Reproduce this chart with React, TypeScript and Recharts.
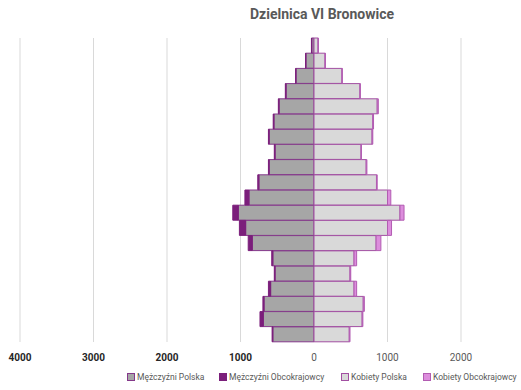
import React from "react";
import { BarChart, Bar, XAxis, YAxis, CartesianGrid, Legend } from "recharts";

// age groups, youngest first (drawn bottom-up)
const ageGroups = [
  "0-4", "5-9", "10-14", "15-19", "20-24", "25-29", "30-34", "35-39", "40-44", "45-49",
  "50-54", "55-59", "60-64", "65-69", "70-74", "75-79", "80-84", "85-89", "90-94", "95+",
];
const menPoland = [560, 690, 680, 590, 530, 560, 840, 930, 1030, 885, 750, 610, 530, 610, 545, 475, 380, 245, 110, 30];
const menForeign = [10, 45, 15, 30, 10, 15, 55, 85, 75, 55, 15, 10, 10, 10, 10, 10, 10, 5, 5, 5];
const womenPoland = [480, 655, 670, 545, 490, 545, 845, 1000, 1170, 1000, 850, 710, 640, 790, 800, 860, 625, 380, 150, 55];
const womenForeign = [10, 10, 15, 35, 10, 35, 65, 55, 55, 45, 10, 10, 5, 10, 10, 15, 5, 5, 5, 5];
const xTicks = [-4000, -3000, -2000, -1000, 0, 1000, 2000];

const seriesNames = ["Mężczyźni Polska", "Mężczyźni Obcokrajowcy", "Kobiety Polska", "Kobiety Obcokrajowcy"];

const data = ageGroups.map((age, i) => ({
  age,
  mp: -menPoland[i],
  mo: -menForeign[i],
  kp: womenPoland[i],
  ko: womenForeign[i],
}));

const FONT = "Roboto, 'Liberation Sans', sans-serif";

const colors = {
  mp: { fill: "#a6a6a6", stroke: "#84388a" },
  mo: { fill: "#7b1f7b", stroke: "#7b1f7b" },
  kp: { fill: "#d9d9d9", stroke: "#a24fa2" },
  ko: { fill: "#dc8ddc", stroke: "#b25cb2" },
};

const Tick = (props: any) => {
  const { x, y, payload } = props;
  const v = payload.value as number;
  const neg = v < 0;
  return (
    <text
      x={x}
      y={y + 11}
      textAnchor="middle"
      fontFamily={FONT}
      fontSize={10}
      fontWeight={neg ? 700 : 400}
      fill={neg ? "#262626" : "#595959"}
    >
      {Math.abs(v)}
    </text>
  );
};

const LegendContent = () => {
  const keys = ["mp", "mo", "kp", "ko"] as const;
  const lefts = [127, 219, 341, 423];
  return (
    <div
      style={{
        position: "relative",
        height: 21,
        width: 521,
        fontFamily: FONT,
        fontSize: 8.5,
        color: "#595959",
        whiteSpace: "nowrap",
      }}
    >
      {keys.map((k, i) => (
        <div
          key={k}
          style={{ position: "absolute", left: lefts[i], top: 8, display: "flex", alignItems: "center" }}
        >
          <span
            style={{
              display: "inline-block",
              width: 6,
              height: 6,
              background: colors[k].fill,
              border: `1px solid ${colors[k].stroke}`,
              marginRight: 2,
            }}
          />
          <span>{seriesNames[i]}</span>
        </div>
      ))}
    </div>
  );
};

export default function App() {
  return (
    <div style={{ position: "absolute", left: 0, top: 0, width: 521, height: 390, background: "#fff" }}>
      <div
        style={{
          position: "absolute",
          top: 6,
          left: 222,
          width: 200,
          textAlign: "center",
          fontFamily: FONT,
          fontWeight: 700,
          fontSize: 14,
          color: "#595959",
        }}
      >
        Dzielnica VI Bronowice
      </div>
      <BarChart
        width={521}
        height={390}
        data={data}
        layout="vertical"
        stackOffset="sign"
        barCategoryGap={0}
        margin={{ top: 38, right: 60, left: 20, bottom: 5 }}
      >
        <CartesianGrid horizontal={false} stroke="#d9d9d9" />
        <XAxis
          type="number"
          domain={[-4000, 2000]}
          ticks={xTicks}
          axisLine={false}
          tickLine={false}
          height={22}
          tick={<Tick />}
          interval={0}
        />
        <YAxis type="category" dataKey="age" hide reversed />
        <Legend
          verticalAlign="bottom"
          content={<LegendContent />}
          wrapperStyle={{ left: 0, width: 521 }}
        />
        <Bar dataKey="mp" name={seriesNames[0]} stackId="a" fill={colors.mp.fill} stroke={colors.mp.stroke} strokeWidth={1} isAnimationActive={false} />
        <Bar dataKey="mo" name={seriesNames[1]} stackId="a" fill={colors.mo.fill} stroke={colors.mo.stroke} strokeWidth={1} isAnimationActive={false} />
        <Bar dataKey="kp" name={seriesNames[2]} stackId="a" fill={colors.kp.fill} stroke={colors.kp.stroke} strokeWidth={1} isAnimationActive={false} />
        <Bar dataKey="ko" name={seriesNames[3]} stackId="a" fill={colors.ko.fill} stroke={colors.ko.stroke} strokeWidth={1} isAnimationActive={false} />
      </BarChart>
    </div>
  );
}
